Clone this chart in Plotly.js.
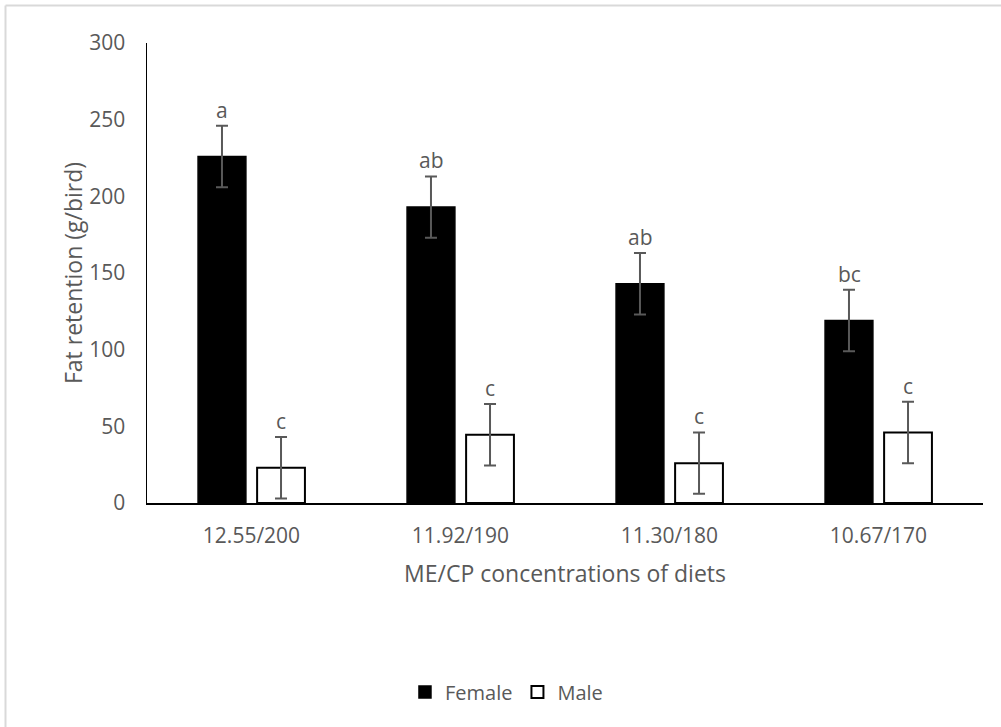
<!DOCTYPE html>
<html>
<head>
<meta charset="utf-8">
<script src="https://cdn.plot.ly/plotly-3.0.1.min.js"></script>
<style>html,body{margin:0;padding:0;background:#fff;}#chart{width:1001px;height:727px;}</style>
</head>
<body>
<div id="chart"></div>
<script>
const categories = ['12.55/200', '11.92/190', '11.30/180', '10.67/170'];
const female = [226, 193, 143, 119];
const femaleErr = [20, 20, 20, 20];
const male = [23, 44.5, 26, 46];
const maleErr = [20, 20, 20, 20];
const femaleLetters = ['a', 'ab', 'ab', 'bc'];
const maleLetters = ['c', 'c', 'c', 'c'];
const yTicks = [0, 50, 100, 150, 200, 250, 300];

const FONT = 'Open Sans, sans-serif';
const GRAY = '#595959';

const traces = [
  {
    type: 'bar', name: 'Female', x: categories, y: female,
    marker: {color: '#000000', line: {color: '#000000', width: 1.5}},
    error_y: {type: 'data', array: femaleErr, visible: true, color: GRAY, thickness: 2, width: 6}
  },
  {
    type: 'bar', name: 'Male', x: categories, y: male,
    marker: {color: '#ffffff', line: {color: '#000000', width: 2}},
    error_y: {type: 'data', array: maleErr, visible: true, color: GRAY, thickness: 2, width: 6}
  }
];

const annotations = [];
categories.forEach((c, i) => {
  annotations.push({x: c, y: female[i] + femaleErr[i], xref: 'x', yref: 'y', text: femaleLetters[i],
    showarrow: false, xshift: -29.5, yanchor: 'bottom', yshift: 0, font: {family: FONT, size: 21, color: GRAY}});
  annotations.push({x: c, y: male[i] + maleErr[i], xref: 'x', yref: 'y', text: maleLetters[i],
    showarrow: false, xshift: 29.5, yanchor: 'bottom', yshift: 0, font: {family: FONT, size: 21, color: GRAY}});
});

const pxX = p => (p - 147) / 836;
const pxY = p => (503 - p) / 460;

const layout = {
  width: 1001, height: 727,
  margin: {l: 147, r: 18, t: 43, b: 224},
  paper_bgcolor: '#ffffff', plot_bgcolor: '#ffffff',
  barmode: 'group', bargap: 0.435, bargroupgap: 0.19,
  font: {family: FONT, size: 20, color: GRAY},
  showlegend: true,
  legend: {orientation: 'h', x: 0.43, xanchor: 'center', y: pxY(692), yanchor: 'middle',
    font: {family: FONT, size: 20, color: GRAY}, itemwidth: 30, traceorder: 'normal'},
  xaxis: {
    type: 'category', showline: true, linecolor: '#000000', linewidth: 1.5,
    showgrid: false, zeroline: false, ticks: '', ticklabelstandoff: 13,
    tickfont: {family: FONT, size: 21, color: GRAY},
    title: {text: 'ME/CP concentrations of diets', font: {family: FONT, size: 23, color: GRAY}, standoff: 18},
    automargin: false
  },
  yaxis: {
    range: [0, 300], tickvals: yTicks, ticktext: yTicks.map(String),
    showline: true, linecolor: '#000000', linewidth: 1.5,
    showgrid: false, zeroline: false, ticks: '', ticklabelstandoff: 16,
    tickfont: {family: FONT, size: 21, color: GRAY},
    title: {text: 'Fat retention (g/bird)', font: {family: FONT, size: 23, color: GRAY}, standoff: 0},
    automargin: false
  },
  annotations: annotations,
  shapes: [
    {type: 'line', xref: 'paper', yref: 'paper', x0: pxX(5.5), x1: pxX(5.5), y0: pxY(727), y1: pxY(5.5),
      line: {color: '#d9d9d9', width: 2}},
    {type: 'line', xref: 'paper', yref: 'paper', x0: pxX(5.5), x1: pxX(1001), y0: pxY(5.5), y1: pxY(5.5),
      line: {color: '#d9d9d9', width: 2}}
  ]
};

Plotly.newPlot('chart', traces, layout, {displayModeBar: false, staticPlot: true});
</script>
</body>
</html>
